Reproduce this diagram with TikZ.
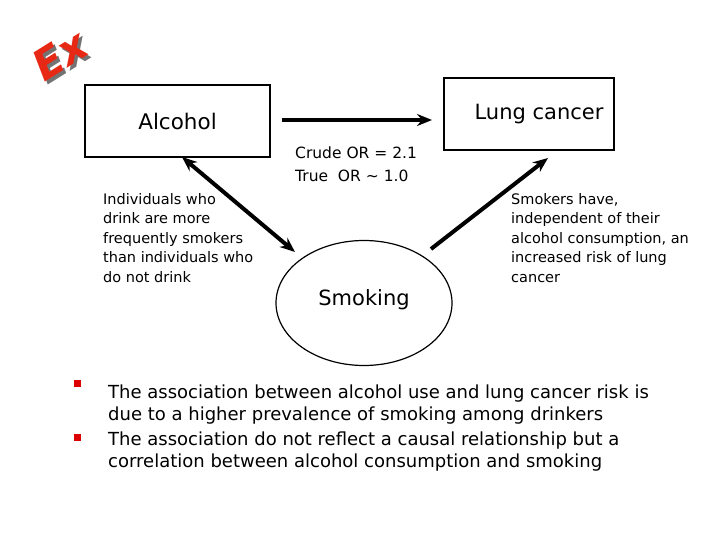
\documentclass[tikz,border=0pt]{standalone}
\usepackage{fontspec}
\setmainfont{DejaVu Sans}
\usetikzlibrary{arrows.meta,shapes.geometric}

\definecolor{exred}{RGB}{230,40,20}
\definecolor{bulletred}{RGB}{220,0,0}

\tikzset{
    factor/.style={draw, line width=1.6pt, minimum width=185pt, minimum height=72pt, font=\fontsize{21}{25}\selectfont},
    causal/.style={line width=4pt, -{Stealth[length=15pt,width=12pt]}},
    note/.style={anchor=north west, align=left, inner sep=0pt, font=\fontsize{14.5}{19.5}\selectfont},
    bullet/.style={fill=bulletred, minimum size=7pt, inner sep=0pt},
    point/.style={anchor=north west, align=left, inner sep=0pt, font=\fontsize{18}{21.5}\selectfont}
}

\begin{document}
\begin{tikzpicture}[x=1pt,y=-1pt]
    \useasboundingbox (0,0) rectangle (720,540);

    % Ex logo
    \node (exshadow) at (63,58) [rotate=32, text=black!55, font=\bfseries\itshape\fontsize{42}{42}\selectfont] {Ex};
    \node (ex) at (60,55) [rotate=32, text=exred, font=\bfseries\itshape\fontsize{42}{42}\selectfont] {Ex};

    \node (alcohol) at (177.5,121) [factor] {};
    \node (lung) at (529,114) [factor, minimum width=170pt] {};
    \node (smoking) at (364,303) [ellipse, draw, line width=1.2pt, minimum width=176pt, minimum height=125pt] {};

    \node at (alcohol) [font=\fontsize{21.5}{25}\selectfont] {Alcohol};
    \node at (539,114) [font=\fontsize{21}{25}\selectfont] {Lung cancer};
    \node at (364,300) [font=\fontsize{21}{25}\selectfont] {Smoking};

    % arrow ends
    \coordinate (ac) at (282,120);
    \coordinate (lc) at (432,120);
    \coordinate (as) at (182,157);
    \coordinate (sa) at (295,252);
    \coordinate (sl) at (431,249);
    \coordinate (ls) at (548,158);

    \draw [causal] (ac) -- (lc);
    \draw [causal, {Stealth[length=15pt,width=12pt]}-{Stealth[length=15pt,width=12pt]}] (as) -- (sa);
    \draw [causal] (sl) -- (ls);

    \node (or) at (295,146.5) [note, font=\fontsize{15.5}{23}\selectfont] {Crude OR = 2.1\\True~~OR \textasciitilde{} 1.0};

    \node (left) at (103,193) [note] {Individuals who\\drink are more\\frequently smokers\\than individuals who\\do not drink};
    \node (right) at (511,193) [note] {Smokers have,\\independent of their\\alcohol consumption, an\\increased risk of lung\\cancer};

    \node (b1) at (77,383) [bullet] {};
    \node (b2) at (77,437) [bullet] {};
    \node (p1) at (108,385) [point] {The association between alcohol use and lung cancer risk is\\due to a higher prevalence of smoking among drinkers};
    \node (p2) at (108,432) [point] {The association do not reflect a causal relationship but a\\correlation between alcohol consumption and smoking};
\end{tikzpicture}
\end{document}
